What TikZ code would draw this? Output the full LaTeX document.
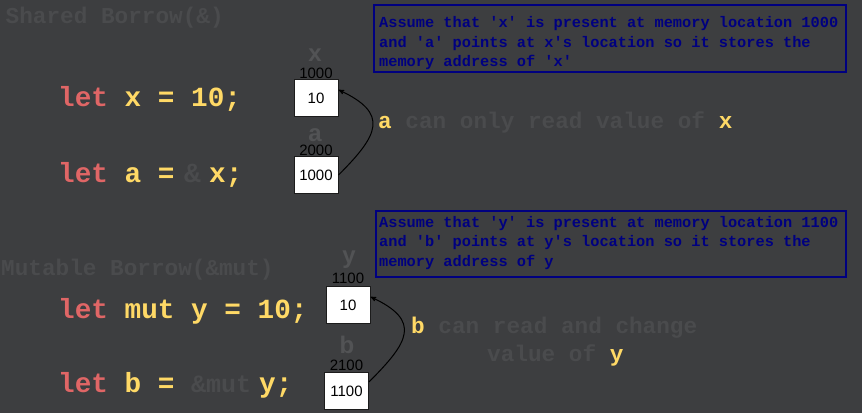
\documentclass[tikz,border=0pt]{standalone}
\usepackage{fontspec}
\setmainfont{Liberation Sans}
\setsansfont{Liberation Sans}
\setmonofont{Liberation Mono}
\usepackage{tikz}
\usetikzlibrary{arrows}
\definecolor{bgdark}{HTML}{3D3E40}
\definecolor{kwred}{HTML}{E06666}
\definecolor{varyellow}{HTML}{FFD966}
\definecolor{faintgray}{HTML}{4A4B4D}
\definecolor{labelgray}{HTML}{525355}
\definecolor{notenavy}{HTML}{000080}
\definecolor{boxline}{HTML}{1C1C1C}
\tikzset{
  code/.style={anchor=base west, inner sep=0pt, font=\fontsize{27.7}{28}\selectfont\ttfamily\bfseries},
  title/.style={anchor=base west, inner sep=0pt, text=faintgray, font=\fontsize{22.7}{23}\selectfont\ttfamily\bfseries},
  remark/.style={title},
  notetext/.style={anchor=base west, align=left, inner sep=0pt, text=notenavy,
    font=\fontsize{15.3}{19.3}\selectfont\ttfamily\bfseries},
  notebox/.style={draw=notenavy, line width=2pt},
  membox/.style={draw=boxline, fill=white, line width=1pt, minimum width=44pt, minimum height=37pt,
    inner sep=0pt, font=\fontsize{15}{15}\selectfont\sffamily},
  addr/.style={anchor=base, inner sep=0pt, text=black, font=\fontsize{15}{15}\selectfont\sffamily},
  varlabel/.style={anchor=base, inner sep=0pt, text depth=0pt, text=labelgray, font=\fontsize{24}{24}\selectfont\sffamily\bfseries},
  pointer/.style={->, >=stealth', line width=1pt, black}
}
\begin{document}
\begin{tikzpicture}[x=1pt, y=-1pt]
    \fill[bgdark] (0,0) rectangle (862,413);
    \useasboundingbox (0,0) rectangle (862,413);
    % shared borrow
    \node[title] (tshared) at (5.5,23) {Shared Borrow(\&)};
    \node[code] (cx) at (58,106) {\textcolor{kwred}{let} \textcolor{varyellow}{x = 10;}};
    \node[code] (ca) at (58,182) {\textcolor{kwred}{let} \textcolor{varyellow}{a =}};
    \node[code, text=faintgray] (caamp) at (184,182) {\&};
    \node[code, text=varyellow] (cax) at (209,182) {x;};
    \node[varlabel] (vx) at (315,61) {x};
    \node[addr] (lx) at (316,78) {1000};
    \node[membox] (bx) at (316,98) {10};
    \node[varlabel] (va) at (315,141) {a};
    \node[addr] (la) at (316,155) {2000};
    \node[membox] (ba) at (316,175) {1000};
    \draw[pointer] (ba.east) to[out=45, in=-25, looseness=1.7] (bx.20);
    \draw[notebox] (374,5) rectangle (846,71.5);
    \node[notetext] (nx) at (379,66.5) {Assume that 'x' is present at memory location 1000\\
      and 'a' points at x's location so it stores the\\
      memory address of 'x'};
    \node[remark] (ra) at (378,128) {\textcolor{varyellow}{a} can only read value of \textcolor{varyellow}{x}};
    % mutable borrow
    \node[title] (tmut) at (1,275) {Mutable Borrow(\&mut)};
    \node[code] (cy) at (58,318) {\textcolor{kwred}{let} \textcolor{varyellow}{mut y = 10;}};
    \node[code] (cb) at (58,392) {\textcolor{kwred}{let} \textcolor{varyellow}{b =}};
    \node[code, text=faintgray, font=\fontsize{25}{25}\selectfont\ttfamily\bfseries] (cbmut) at (191,392) {\&mut};
    \node[code, text=varyellow] (cby) at (259,392) {y;};
    \node[varlabel] (vy) at (349,263) {y};
    \node[addr] (ly) at (348,283) {1100};
    \node[membox] (by) at (348,305) {10};
    \node[varlabel] (vb) at (347,353) {b};
    \node[addr] (lb) at (346.5,370) {2100};
    \node[membox] (bb) at (346.5,391) {1100};
    \draw[pointer] (bb.22) to[out=45, in=-25, looseness=1.7] (by.20);
    \draw[notebox] (376,210.5) rectangle (846,276.5);
    \node[notetext] (ny) at (379,266) {Assume that 'y' is present at memory location 1100\\
      and 'b' points at y's location so it stores the\\
      memory address of y};
    \node[remark] (rb) at (411,333) {\textcolor{varyellow}{b} can read and change};
    \node[remark] (rbv) at (487,361.5) {value of \textcolor{varyellow}{y}};
\end{tikzpicture}
\end{document}
